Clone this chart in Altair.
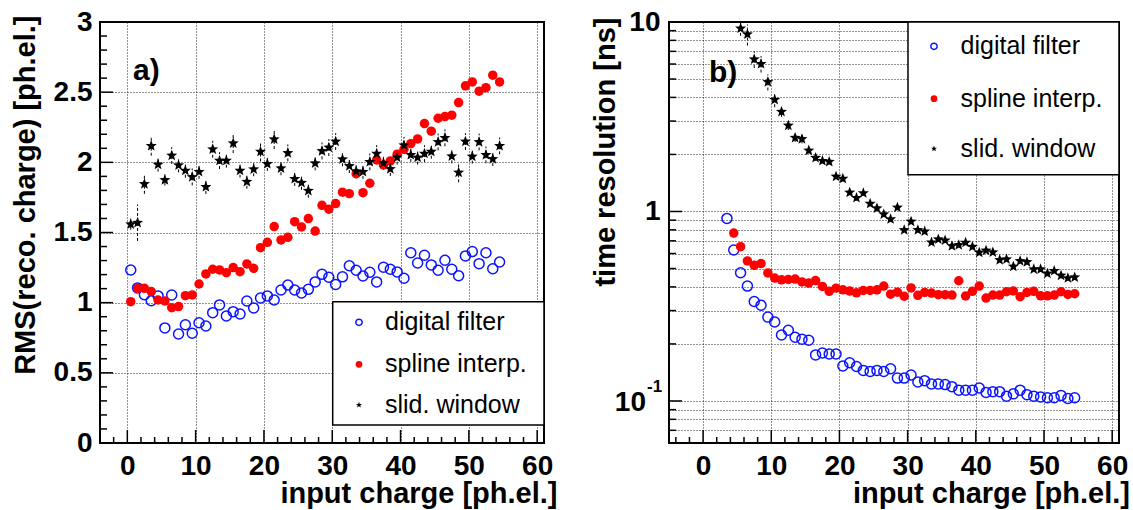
import altair as alt
import pandas as pd

FONT = "Liberation Sans"
NAMES = ["digital filter", "spline interp.", "slid. window"]

# ---------------- panel a) ----------------
x_left = [0.5, 1.5, 2.5, 3.5, 4.5, 5.5, 6.5, 7.5, 8.5, 9.5, 10.5, 11.5, 12.5, 13.5,
          14.5, 15.5, 16.5, 17.5, 18.5, 19.5, 20.5, 21.5, 22.5, 23.5, 24.5, 25.5, 26.5,
          27.5, 28.5, 29.5, 30.5, 31.5, 32.5, 33.5, 34.5, 35.5, 36.5, 37.5, 38.5, 39.5,
          40.5, 41.5, 42.5, 43.5, 44.5, 45.5, 46.5, 47.5, 48.5, 49.5, 50.5, 51.5, 52.5,
          53.5, 54.5]
blue_left = [1.233, 1.105, 1.057, 1.014, 1.048, 0.820, 1.055, 0.777, 0.843, 0.782,
             0.857, 0.834, 0.929, 0.984, 0.905, 0.936, 0.919, 1.012, 0.962, 1.033,
             1.048, 1.019, 1.090, 1.126, 1.090, 1.069, 1.095, 1.148, 1.202, 1.181,
             1.130, 1.184, 1.263, 1.231, 1.190, 1.217, 1.148, 1.252, 1.238, 1.219,
             1.174, 1.356, 1.283, 1.338, 1.269, 1.231, 1.302, 1.238, 1.192, 1.333,
             1.364, 1.278, 1.356, 1.242, 1.290]
red_left = [1.007, 1.102, 1.102, 1.079, 1.019, 1.012, 0.964, 0.972, 1.050, 1.055,
            1.133, 1.205, 1.238, 1.233, 1.214, 1.250, 1.221, 1.276, 1.245, 1.392,
            1.430, 1.542, 1.447, 1.466, 1.577, 1.540, 1.599, 1.510, 1.694, 1.666,
            1.706, 1.787, 1.777, 1.919, 1.784, 1.851, 2.017, 1.981, 2.010, 2.058,
            2.093, 2.133, 2.167, 2.276, 2.222, 2.314, 2.326, 2.336, 2.426, 2.545,
            2.573, 2.507, 2.532, 2.621, 2.573]
star_left = [1.559, 1.570, 1.846, 2.117, 1.984, 1.874, 2.048, 1.979, 1.941, 1.896,
             1.932, 1.825, 2.093, 2.012, 2.012, 2.136, 1.941, 1.862, 1.951, 2.076,
             1.989, 2.165, 1.958, 2.067, 1.882, 1.855, 1.798, 1.993, 2.081, 2.105,
             2.148, 2.022, 1.974, 1.936, 1.932, 2.003, 2.062, 1.996, 1.953, 2.034,
             2.122, 2.053, 2.034, 2.062, 2.076, 2.145, 2.174, 2.043, 1.927, 2.148,
             2.041, 2.145, 2.053, 2.024, 2.117]
star_left_err = [0.04, 0.13, 0.07, 0.07, 0.05, 0.04, 0.06, 0.05, 0.05, 0.06,
                 0.05, 0.05, 0.06, 0.06, 0.05, 0.07, 0.05, 0.05, 0.05, 0.07,
                 0.05, 0.07, 0.05, 0.06, 0.05, 0.05, 0.05, 0.05, 0.06, 0.06,
                 0.06, 0.05, 0.05, 0.05, 0.05, 0.06, 0.06, 0.05, 0.05, 0.05,
                 0.06, 0.05, 0.05, 0.06, 0.05, 0.06, 0.06, 0.05, 0.07, 0.06,
                 0.05, 0.06, 0.06, 0.05, 0.06]

# ---------------- panel b) ----------------
x_right = [3.5, 4.5, 5.5, 6.5, 7.5, 8.5, 9.5, 10.5, 11.5, 12.5, 13.5, 14.5, 15.5,
           16.5, 17.5, 18.5, 19.5, 20.5, 21.5, 22.5, 23.5, 24.5, 25.5, 26.5, 27.5,
           28.5, 29.5, 30.5, 31.5, 32.5, 33.5, 34.5, 35.5, 36.5, 37.5, 38.5, 39.5,
           40.5, 41.5, 42.5, 43.5, 44.5, 45.5, 46.5, 47.5, 48.5, 49.5, 50.5, 51.5,
           52.5, 53.5, 54.5]
blue_right = [0.919, 0.626, 0.475, 0.404, 0.335, 0.320, 0.277, 0.261, 0.223, 0.236,
              0.217, 0.212, 0.209, 0.175, 0.179, 0.177, 0.177, 0.153, 0.159, 0.152,
              0.145, 0.143, 0.145, 0.143, 0.148, 0.132, 0.132, 0.137, 0.126, 0.128,
              0.123, 0.123, 0.122, 0.119, 0.114, 0.114, 0.114, 0.117, 0.111, 0.112,
              0.112, 0.106, 0.109, 0.114, 0.108, 0.106, 0.105, 0.104, 0.104, 0.107,
              0.103, 0.104]
red_right = [0.769, 0.652, 0.548, 0.520, 0.531, 0.474, 0.445, 0.436, 0.438, 0.440,
             0.425, 0.419, 0.432, 0.402, 0.379, 0.394, 0.386, 0.380, 0.372, 0.383,
             0.383, 0.386, 0.404, 0.366, 0.375, 0.357, 0.395, 0.361, 0.374, 0.371,
             0.364, 0.364, 0.362, 0.431, 0.358, 0.379, 0.404, 0.349, 0.362, 0.362,
             0.377, 0.381, 0.355, 0.374, 0.379, 0.359, 0.359, 0.362, 0.377, 0.365,
             0.368]
star_right = [9.25, 8.61, 6.36, 6.01, 4.82, 3.89, 3.36, 2.84, 2.45, 2.41,
              2.10, 1.92, 1.85, 1.83, 1.53, 1.49, 1.26, 1.18, 1.25, 1.10,
              1.04, 0.966, 0.911, 1.05, 0.798, 0.886, 0.798, 0.785, 0.687, 0.713,
              0.704, 0.657, 0.665, 0.685, 0.652, 0.607, 0.622, 0.609, 0.555, 0.560,
              0.512, 0.548, 0.541, 0.496, 0.496, 0.471, 0.486, 0.459, 0.445, 0.450]
star_right_err = [0.80, 1.10, 0.64, 0.60, 0.47, 0.34, 0.20, 0.15, 0.12, 0.12,
                  0.08, 0.07, 0.06, 0.06, 0.05, 0.05, 0.04, 0.04, 0.04, 0.03,
                  0.03, 0.03, 0.03, 0.03, 0.02, 0.02, 0.02, 0.02, 0.02, 0.02,
                  0.02, 0.02, 0.02, 0.02, 0.02, 0.02, 0.02, 0.02, 0.015, 0.015,
                  0.015, 0.015, 0.015, 0.015, 0.015, 0.015, 0.015, 0.015, 0.015, 0.015]

# axis tick positions
x_major = [0, 10, 20, 30, 40, 50, 60]
x_minor = [-4, -2, 2, 4, 6, 8, 12, 14, 16, 18, 22, 24, 26, 28, 32, 34, 36, 38,
           42, 44, 46, 48, 52, 54, 56, 58]
yL_major = [0, 0.5, 1, 1.5, 2, 2.5, 3]
yL_minor = [0.1, 0.2, 0.3, 0.4, 0.6, 0.7, 0.8, 0.9, 1.1, 1.2, 1.3, 1.4, 1.6, 1.7, 1.8,
            1.9, 2.1, 2.2, 2.3, 2.4, 2.6, 2.7, 2.8, 2.9]
yR_major = [0.1, 1, 10]
yR_minor = [0.06, 0.07, 0.08, 0.09, 0.2, 0.3, 0.4, 0.5, 0.6, 0.7, 0.8, 0.9,
            2, 3, 4, 5, 6, 7, 8, 9]

BLUE = "#0a14ff"
RED = "#ff0000"
STAR = ("M0,-1L0.25,-0.34L0.951,-0.309L0.405,0.132L0.588,0.809L0,0.43L-0.588,0.809"
        "L-0.405,0.132L-0.951,-0.309L-0.25,-0.34Z")
W1, W2, H = 444, 450, 421

grid_kw = dict(grid=True, gridDash=[1, 2], gridColor="black", gridWidth=1, gridOpacity=0.85)
lab_kw = dict(labelFont=FONT, labelFontSize=28, labelFontWeight="bold", labelColor="black",
              labelFlush=False, labelOverlap=False)
ttl_kw = dict(titleFont=FONT, titleFontSize=29, titleFontWeight="bold", titleColor="black")


def tick_layers(xs, xax, ys, yax, xmaj, xmin, ymaj, ymin, h):
    out = []
    for vals, ln in ((xmaj, 13), (xmin, 6)):
        d = pd.DataFrame({"v": vals})
        out.append(alt.Chart(d).mark_rule(color="black", strokeWidth=1.5).encode(
            x=alt.X("v:Q", scale=xs, axis=xax), y=alt.value(h), y2=alt.value(h - ln)))
    for vals, ln in ((ymaj, 13), (ymin, 7)):
        d = pd.DataFrame({"v": vals})
        out.append(alt.Chart(d).mark_rule(color="black", strokeWidth=1.5).encode(
            y=alt.Y("v:Q", scale=ys, axis=yax), x=alt.value(0), x2=alt.value(ln)))
    return out


def legend_layers(x0, x1, y0, y1, mx, tx, rows):
    one = pd.DataFrame({"k": [0]})
    box = alt.Chart(one).mark_rect(fill="white", stroke="black", strokeWidth=1.5).encode(
        x=alt.value(x0), x2=alt.value(x1), y=alt.value(y0), y2=alt.value(y1))
    layers = [box]
    styles = [
        dict(shape="circle", filled=False, color=BLUE, size=40, strokeWidth=1.5, opacity=1),
        dict(shape="circle", filled=True, color=RED, size=45, opacity=1),
        dict(shape=STAR, filled=True, color="black", size=40, opacity=1),
    ]
    for name, st, ry in zip(NAMES, styles, rows):
        d = pd.DataFrame({"label": [name]})
        layers.append(alt.Chart(d).mark_point(**st).encode(x=alt.value(mx), y=alt.value(ry)))
        layers.append(alt.Chart(d).mark_text(font=FONT, fontSize=25, align="left",
                                             baseline="middle", color="black").encode(
            x=alt.value(tx), y=alt.value(ry), text="label:N"))
    return layers


# ---------- left chart ----------
dl = pd.DataFrame({"x": x_left, "blue": blue_left, "red": red_left, "star": star_left,
                   "err": star_left_err})
dl["lo"] = dl["star"] - dl["err"]
dl["hi"] = dl["star"] + dl["err"]

xsL = alt.Scale(domain=[-4, 61], nice=False, zero=False)
ysL = alt.Scale(domain=[0, 3], nice=False, zero=False)

xaxL = alt.Axis(orient="bottom", values=x_major, ticks=False, domain=False, labelPadding=9,
                title="input charge [ph.el.]", titleX=W1 + 13, titleY=50, titleAlign="right",
                titleBaseline="middle", titleAngle=0, **grid_kw, **lab_kw, **ttl_kw)
yaxL = alt.Axis(orient="left", values=yL_major, format="~g", ticks=False, domain=False,
                labelPadding=8, title="RMS(reco. charge) [ph.el.]", titleX=-75, titleY=-7,
                titleAlign="right", titleBaseline="middle", titleAngle=270,
                **grid_kw, **lab_kw, **ttl_kw)

XL = alt.X("x:Q", scale=xsL, axis=xaxL)
baseL = alt.Chart(dl)
errL = baseL.mark_rule(color="black", strokeWidth=1, strokeDash=[3, 2]).encode(
    x=XL, y=alt.Y("lo:Q", scale=ysL, axis=yaxL), y2="hi:Q")
blueL = baseL.mark_point(shape="circle", filled=False, color=BLUE, size=100, strokeWidth=1.5,
                         opacity=1).encode(x=XL, y=alt.Y("blue:Q", scale=ysL, axis=yaxL))
redL = baseL.mark_circle(color=RED, size=90, opacity=1).encode(
    x=XL, y=alt.Y("red:Q", scale=ysL, axis=yaxL))
starL = baseL.mark_point(shape=STAR, filled=True, color="black", size=135, opacity=1).encode(
    x=XL, y=alt.Y("star:Q", scale=ysL, axis=yaxL))
labA = alt.Chart(pd.DataFrame({"t": ["a)"]})).mark_text(
    font=FONT, fontSize=30, fontWeight="bold", align="left", baseline="alphabetic",
    color="black").encode(x=alt.value(33), y=alt.value(58), text="t:N")

left = alt.layer(
    *tick_layers(xsL, xaxL, ysL, yaxL, x_major, x_minor, yL_major, yL_minor, H),
    errL, blueL, redL, starL, labA,
    *legend_layers(232.7, W1, 279.7, 403, 259, 285, [300.3, 342.3, 383])
).properties(width=W1, height=H)

# ---------- right chart ----------
db = pd.DataFrame({"x": x_right, "blue": blue_right})
dr = pd.DataFrame({"x": x_right[1:], "red": red_right})
ds = pd.DataFrame({"x": x_right[2:], "star": star_right, "err": star_right_err})
ds["lo"] = ds["star"] - ds["err"]
ds["hi"] = ds["star"] + ds["err"]

xsR = alt.Scale(domain=[-5, 61], nice=False, zero=False)
ysR = alt.Scale(type="log", domain=[0.06, 10], nice=False)

ygridR = sorted(yR_major + yR_minor)
xaxR = alt.Axis(orient="bottom", values=x_major, ticks=False, domain=False, labelPadding=9,
                title="input charge [ph.el.]", titleX=W2 + 10.5, titleY=50, titleAlign="right",
                titleBaseline="middle", titleAngle=0, **grid_kw, **lab_kw, **ttl_kw)
yaxR = alt.Axis(orient="left", values=ygridR, ticks=False, domain=False, labelPadding=9,
                labelExpr="datum.value > 9.5 ? '10' : (datum.value > 0.99 && datum.value < 1.01 ? '1' : '')",
                title="time resolution [ns]", titleX=-64, titleY=-5, titleAlign="right",
                titleBaseline="middle", titleAngle=270, **grid_kw, **lab_kw, **ttl_kw)

XR = alt.X("x:Q", scale=xsR, axis=xaxR)
errR = alt.Chart(ds).mark_rule(color="black", strokeWidth=1, strokeDash=[3, 2], clip=True).encode(
    x=XR, y=alt.Y("lo:Q", scale=ysR, axis=yaxR), y2="hi:Q")
blueR = alt.Chart(db).mark_point(shape="circle", filled=False, color=BLUE, size=100,
                                 strokeWidth=1.5, opacity=1).encode(
    x=XR, y=alt.Y("blue:Q", scale=ysR, axis=yaxR))
redR = alt.Chart(dr).mark_circle(color=RED, size=90, opacity=1).encode(
    x=XR, y=alt.Y("red:Q", scale=ysR, axis=yaxR))
starR = alt.Chart(ds).mark_point(shape=STAR, filled=True, color="black", size=135,
                                 opacity=1, clip=True).encode(
    x=XR, y=alt.Y("star:Q", scale=ysR, axis=yaxR))
labB = alt.Chart(pd.DataFrame({"t": ["b)"]})).mark_text(
    font=FONT, fontSize=30, fontWeight="bold", align="left", baseline="alphabetic",
    color="black").encode(x=alt.value(40), y=alt.value(60), text="t:N")
# label "10^-1" of the log axis (base and superscript)
base10 = alt.Chart(pd.DataFrame({"t": ["10"]})).mark_text(
    font=FONT, fontSize=28, fontWeight="bold", align="right", baseline="middle",
    color="black").encode(x=alt.value(-23), y=alt.value(381), text="t:N")
sup = alt.Chart(pd.DataFrame({"t": ["-1"]})).mark_text(
    font=FONT, fontSize=17, fontWeight="bold", align="left", baseline="middle",
    color="black").encode(x=alt.value(-22), y=alt.value(365), text="t:N")

right = alt.layer(
    *tick_layers(xsR, xaxR, ysR, yaxR, x_major, x_minor, yR_major, yR_minor, H),
    errR, blueR, redR, starR, labB, base10, sup,
    *legend_layers(239, W2, 0, 152.7, 265, 291.6, [24.3, 76.7, 126.7])
).properties(width=W2, height=H)

chart = alt.hconcat(left, right, spacing=32).properties(
    padding={"left": 10, "top": 7, "right": 0, "bottom": 0}, background="white"
).configure_view(stroke="black", strokeWidth=2)

chart.save("out.html", embed_options={"renderer": "svg", "actions": False})
